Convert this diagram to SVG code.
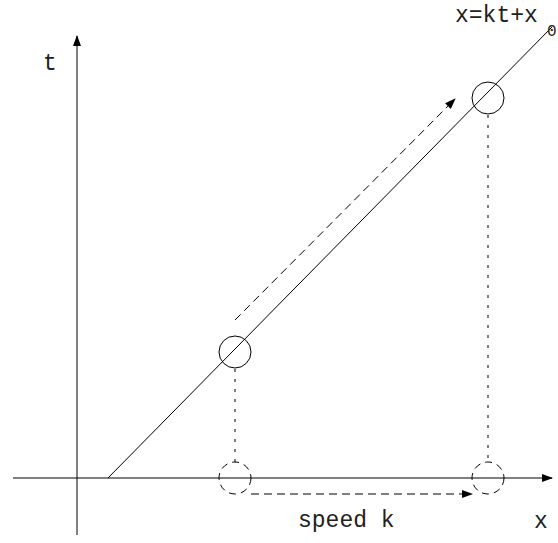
<svg xmlns="http://www.w3.org/2000/svg" width="558" height="543" viewBox="0 0 558 543">
<style>
.l{stroke:#000;stroke-width:1;fill:none}
.d{stroke:#000;stroke-width:1;fill:none;stroke-dasharray:8 5}
.o{stroke:#000;stroke-width:1;fill:none;stroke-dasharray:3 7}
.dc{stroke:#000;stroke-width:1;fill:none;stroke-dasharray:7 5}
.c{stroke:#000;stroke-width:1;fill:none}
text{font-family:"Liberation Mono","Courier New",monospace;fill:#222}
</style>
<defs>
<marker id="ah" markerWidth="11" markerHeight="8" refX="10" refY="4" orient="auto" markerUnits="userSpaceOnUse">
<path d="M0,0 L11,4 L0,8 Z" fill="#000"/>
</marker>
</defs>
<rect width="558" height="543" fill="#fff"/>
<g id="connectors">
<line class="l" x1="77" y1="535" x2="77" y2="36" marker-end="url(#ah)"/>
<line class="l" x1="13" y1="478" x2="552" y2="478" marker-end="url(#ah)"/>
<line class="l" x1="108" y1="478" x2="552" y2="27"/>
<line class="d" x1="235" y1="320" x2="455" y2="99" marker-end="url(#ah)"/>
<line class="d" x1="251" y1="494" x2="472" y2="494" marker-end="url(#ah)"/>
<line class="o" x1="235" y1="369" x2="235" y2="462"/>
<line class="o" x1="488" y1="115" x2="488" y2="462"/>
</g>
<g id="node-start">
<circle class="c" cx="235" cy="352" r="16"/>
</g>
<g id="node-end">
<circle class="c" cx="488" cy="98" r="16"/>
</g>
<g id="node-start-proj">
<circle class="dc" cx="235" cy="478" r="16"/>
</g>
<g id="node-end-proj">
<circle class="dc" cx="488" cy="478" r="16"/>
</g>
<g id="labels">
<text x="455" y="22" font-size="23">x=kt+x</text>
<text x="547" y="36" font-size="16">0</text>
<text x="43" y="70" font-size="23">t</text>
<text x="298" y="527" font-size="23">speed k</text>
<text x="534" y="528" font-size="23">x</text>
</g>
</svg>
